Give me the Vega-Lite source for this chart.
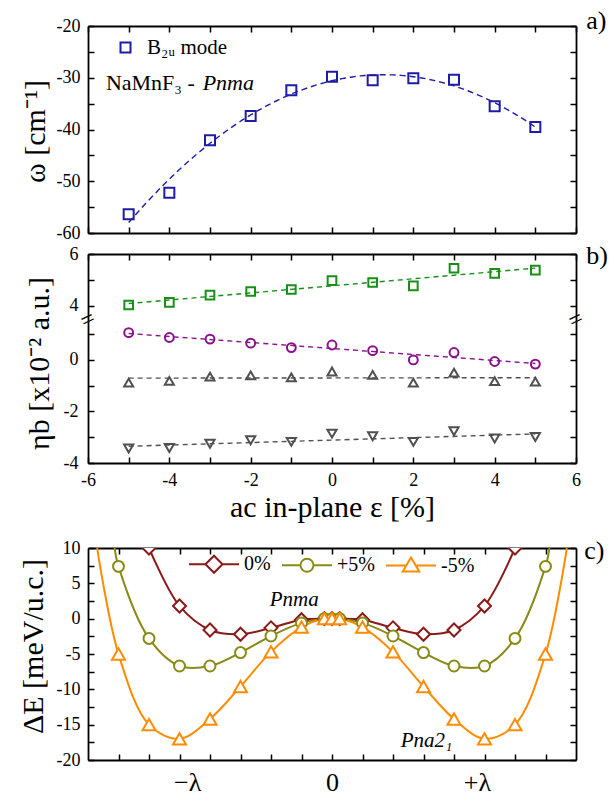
{
  "$schema": "https://vega.github.io/schema/vega-lite/v6.json",
  "padding": {"left": 17, "top": 8, "right": 0, "bottom": 2},
  "bounds": "flush",
  "spacing": 21,
  "resolve": {
    "scale": {"color": "independent", "shape": "independent", "size": "independent", "stroke": "independent"},
    "legend": {"color": "independent", "shape": "independent", "size": "independent", "stroke": "independent"}
  },
  "config": {
    "font": "Liberation Serif",
    "view": {"stroke": null},
    "axis": {
      "domainColor": "black", "domainWidth": 1.8, "tickColor": "black", "tickWidth": 1.5, "tickSize": -6,
      "labelFont": "Liberation Serif", "labelFontSize": 18, "labelColor": "black", "labelPadding": 14,
      "labelOverlap": false, "labelFlush": false, "labelBound": false,
      "titleFont": "Liberation Serif", "titleFontSize": 30, "titleFontWeight": "normal", "titleColor": "black",
      "grid": false
    },
    "legend": {"labelFont": "Liberation Serif", "labelColor": "black"},
    "text": {"font": "Liberation Serif", "color": "black"}
  },
  "datasets": {
    "omega": [
      {"eps": -5, "w": -56.4}, {"eps": -4, "w": -52.2}, {"eps": -3, "w": -42.1}, {"eps": -2, "w": -37.4},
      {"eps": -1, "w": -32.4}, {"eps": 0, "w": -29.8}, {"eps": 1, "w": -30.5}, {"eps": 2, "w": -30.1},
      {"eps": 3, "w": -30.4}, {"eps": 4, "w": -35.5}, {"eps": 5, "w": -39.5}
    ],
    "eta": [
      {"eps": -5, "eta": 4.03, "mode": "sq"}, {"eps": -4, "eta": 4.13, "mode": "sq"}, {"eps": -3, "eta": 4.41, "mode": "sq"},
      {"eps": -2, "eta": 4.55, "mode": "sq"}, {"eps": -1, "eta": 4.63, "mode": "sq"}, {"eps": 0, "eta": 4.97, "mode": "sq"},
      {"eps": 1, "eta": 4.9, "mode": "sq"}, {"eps": 2, "eta": 4.77, "mode": "sq"}, {"eps": 3, "eta": 5.45, "mode": "sq"},
      {"eps": 4, "eta": 5.25, "mode": "sq"}, {"eps": 5, "eta": 5.38, "mode": "sq"},
      {"eps": -5, "eta": 1.06, "mode": "circ"}, {"eps": -4, "eta": 0.87, "mode": "circ"}, {"eps": -3, "eta": 0.81, "mode": "circ"},
      {"eps": -2, "eta": 0.65, "mode": "circ"}, {"eps": -1, "eta": 0.48, "mode": "circ"}, {"eps": 0, "eta": 0.58, "mode": "circ"},
      {"eps": 1, "eta": 0.36, "mode": "circ"}, {"eps": 2, "eta": 0.0, "mode": "circ"}, {"eps": 3, "eta": 0.29, "mode": "circ"},
      {"eps": 4, "eta": -0.06, "mode": "circ"}, {"eps": 5, "eta": -0.16, "mode": "circ"},
      {"eps": -5, "eta": -0.88, "mode": "up"}, {"eps": -4, "eta": -0.81, "mode": "up"}, {"eps": -3, "eta": -0.65, "mode": "up"},
      {"eps": -2, "eta": -0.6, "mode": "up"}, {"eps": -1, "eta": -0.68, "mode": "up"}, {"eps": 0, "eta": -0.45, "mode": "up"},
      {"eps": 1, "eta": -0.58, "mode": "up"}, {"eps": 2, "eta": -0.88, "mode": "up"}, {"eps": 3, "eta": -0.49, "mode": "up"},
      {"eps": 4, "eta": -0.82, "mode": "up"}, {"eps": 5, "eta": -0.84, "mode": "up"},
      {"eps": -5, "eta": -3.44, "mode": "down"}, {"eps": -4, "eta": -3.42, "mode": "down"}, {"eps": -3, "eta": -3.25, "mode": "down"},
      {"eps": -2, "eta": -3.12, "mode": "down"}, {"eps": -1, "eta": -3.18, "mode": "down"}, {"eps": 0, "eta": -2.86, "mode": "down"},
      {"eps": 1, "eta": -2.96, "mode": "down"}, {"eps": 2, "eta": -3.18, "mode": "down"}, {"eps": 3, "eta": -2.77, "mode": "down"},
      {"eps": 4, "eta": -3.05, "mode": "down"}, {"eps": 5, "eta": -2.99, "mode": "down"}
    ],
    "dE": [
      {"lam": -6, "dE": 10, "strain": "0%", "pt": true}, {"lam": -5, "dE": 1.8, "strain": "0%", "pt": true},
      {"lam": -4, "dE": -1.6, "strain": "0%", "pt": true}, {"lam": -3, "dE": -2.2, "strain": "0%", "pt": true},
      {"lam": -2, "dE": -1.3, "strain": "0%", "pt": true}, {"lam": -1, "dE": -0.15, "strain": "0%", "pt": true},
      {"lam": -0.25, "dE": 0, "strain": "0%", "pt": true}, {"lam": 0, "dE": 0, "strain": "0%", "pt": true},
      {"lam": 0.25, "dE": 0, "strain": "0%", "pt": true}, {"lam": 1, "dE": -0.15, "strain": "0%", "pt": true},
      {"lam": 2, "dE": -1.3, "strain": "0%", "pt": true}, {"lam": 3, "dE": -2.2, "strain": "0%", "pt": true},
      {"lam": 4, "dE": -1.6, "strain": "0%", "pt": true}, {"lam": 5, "dE": 1.8, "strain": "0%", "pt": true},
      {"lam": 6, "dE": 10, "strain": "0%", "pt": true},
      {"lam": -7.13, "dE": 10, "strain": "+5%", "pt": false}, {"lam": -7, "dE": 7.4, "strain": "+5%", "pt": true},
      {"lam": -6, "dE": -2.8, "strain": "+5%", "pt": true}, {"lam": -5, "dE": -6.7, "strain": "+5%", "pt": true},
      {"lam": -4, "dE": -6.7, "strain": "+5%", "pt": true}, {"lam": -3, "dE": -4.8, "strain": "+5%", "pt": true},
      {"lam": -2, "dE": -2.45, "strain": "+5%", "pt": true}, {"lam": -1, "dE": -0.6, "strain": "+5%", "pt": true},
      {"lam": -0.25, "dE": 0, "strain": "+5%", "pt": true}, {"lam": 0, "dE": 0, "strain": "+5%", "pt": true},
      {"lam": 0.25, "dE": 0, "strain": "+5%", "pt": true}, {"lam": 1, "dE": -0.6, "strain": "+5%", "pt": true},
      {"lam": 2, "dE": -2.45, "strain": "+5%", "pt": true}, {"lam": 3, "dE": -4.8, "strain": "+5%", "pt": true},
      {"lam": 4, "dE": -6.7, "strain": "+5%", "pt": true}, {"lam": 5, "dE": -6.7, "strain": "+5%", "pt": true},
      {"lam": 6, "dE": -2.8, "strain": "+5%", "pt": true}, {"lam": 7, "dE": 7.4, "strain": "+5%", "pt": true},
      {"lam": 7.13, "dE": 10, "strain": "+5%", "pt": false},
      {"lam": -7.7, "dE": 10, "strain": "-5%", "pt": false}, {"lam": -7, "dE": -5, "strain": "-5%", "pt": true},
      {"lam": -6, "dE": -15, "strain": "-5%", "pt": true}, {"lam": -5, "dE": -17, "strain": "-5%", "pt": true},
      {"lam": -4, "dE": -14.2, "strain": "-5%", "pt": true}, {"lam": -3, "dE": -9.6, "strain": "-5%", "pt": true},
      {"lam": -2, "dE": -4.7, "strain": "-5%", "pt": true}, {"lam": -1, "dE": -1.2, "strain": "-5%", "pt": true},
      {"lam": -0.25, "dE": 0, "strain": "-5%", "pt": true}, {"lam": 0, "dE": 0, "strain": "-5%", "pt": true},
      {"lam": 0.25, "dE": 0, "strain": "-5%", "pt": true}, {"lam": 1, "dE": -1.2, "strain": "-5%", "pt": true},
      {"lam": 2, "dE": -4.7, "strain": "-5%", "pt": true}, {"lam": 3, "dE": -9.6, "strain": "-5%", "pt": true},
      {"lam": 4, "dE": -14.2, "strain": "-5%", "pt": true}, {"lam": 5, "dE": -17, "strain": "-5%", "pt": true},
      {"lam": 6, "dE": -15, "strain": "-5%", "pt": true}, {"lam": 7, "dE": -5, "strain": "-5%", "pt": true},
      {"lam": 7.7, "dE": 10, "strain": "-5%", "pt": false}
    ]
  },
  "vconcat": [
    {
      "width": 488, "height": 207,
      "resolve": {"axis": {"x": "independent", "y": "independent"}},
      "layer": [
        {
          "mark": {"type": "rule", "color": "black", "strokeDash": [1.5, 2.5], "strokeWidth": 1},
          "encoding": {"x": {"datum": 0, "type": "quantitative", "scale": {"domain": [-6, 6], "nice": false, "zero": false}, "axis": null}}
        },
        {
          "data": {"name": "omega"},
          "transform": [{"regression": "w", "on": "eps", "method": "poly", "order": 2}],
          "mark": {"type": "line", "color": "#1c1ca6", "strokeDash": [6, 4], "strokeWidth": 1.4},
          "encoding": {
            "x": {"field": "eps", "type": "quantitative", "scale": {"domain": [-6, 6], "nice": false, "zero": false},
                  "axis": {"orient": "top", "values": [-6, -5, -4, -3, -2, -1, 0, 1, 2, 3, 4, 5, 6], "labels": false, "title": null}},
            "y": {"field": "w", "type": "quantitative", "scale": {"domain": [-60, -20], "nice": false, "zero": false},
                  "axis": {"orient": "right", "values": [-60, -55, -50, -45, -40, -35, -30, -25, -20], "labels": false, "title": null}}
          }
        },
        {
          "data": {"name": "omega"},
          "mark": {"type": "point", "filled": false, "color": "#1c1ca6", "size": 100, "strokeWidth": 2, "opacity": 1},
          "encoding": {
            "x": {"field": "eps", "type": "quantitative", "scale": {"domain": [-6, 6], "nice": false, "zero": false},
                  "axis": {"orient": "bottom", "values": [-6, -5, -4, -3, -2, -1, 0, 1, 2, 3, 4, 5, 6], "labels": false, "title": null}},
            "y": {"field": "w", "type": "quantitative", "scale": {"domain": [-60, -20], "nice": false, "zero": false},
                  "axis": {"orient": "left", "values": [-60, -55, -50, -45, -40, -35, -30, -25, -20],
                           "labelExpr": "datum.value % 10 == 0 ? '' + datum.value : ''",
                           "title": "ω [cm⁻¹]", "titleX": -53, "titleY": 105, "titleAngle": -90, "titleBaseline": "middle", "titleAlign": "center"}},
            "shape": {"datum": "B₂ᵤ mode", "type": "nominal", "scale": {"domain": ["B₂ᵤ mode"], "range": ["square"]},
                      "legend": {"orient": "none", "legendX": 27, "legendY": 11, "title": null, "padding": 0,
                                 "symbolSize": 100, "symbolStrokeWidth": 2, "symbolStrokeColor": "#1c1ca6", "symbolFillColor": "transparent",
                                 "labelFontSize": 21, "labelOffset": 11}}
          }
        },
        {
          "data": {"values": [{}]},
          "mark": {"type": "text", "align": "left", "baseline": "middle", "fontSize": 22},
          "encoding": {"x": {"datum": -5.56, "type": "quantitative", "axis": null}, "y": {"datum": -31, "type": "quantitative", "axis": null}, "text": {"value": "NaMnF₃ -"}}
        },
        {
          "data": {"values": [{}]},
          "mark": {"type": "text", "align": "left", "baseline": "middle", "fontSize": 22, "fontStyle": "italic"},
          "encoding": {"x": {"datum": -3.18, "type": "quantitative", "axis": null}, "y": {"datum": -31, "type": "quantitative", "axis": null}, "text": {"value": "Pnma"}}
        },
        {
          "data": {"values": [{}]},
          "mark": {"type": "text", "align": "center", "baseline": "middle", "fontSize": 26},
          "encoding": {"x": {"datum": 6.5, "type": "quantitative", "axis": null}, "y": {"datum": -19.05, "type": "quantitative", "axis": null}, "text": {"value": "a)"}}
        }
      ]
    },
    {
      "width": 488, "height": 273,
      "resolve": {"axis": {"x": "independent", "y": "independent"}},
      "layer": [
        {
          "mark": {"type": "rule", "color": "#777777", "strokeDash": [1.5, 2.5], "strokeWidth": 1},
          "encoding": {
            "x": {"datum": 0, "type": "quantitative", "scale": {"domain": [-6, 6], "nice": false, "zero": false}, "axis": null},
            "y": {"datum": 6, "type": "quantitative", "scale": {"domain": [-4, 1.55, 3.45, 6], "range": [209, 66, 66, 0], "nice": false, "zero": false}, "axis": null},
            "y2": {"datum": -4}
          }
        },
        {
          "mark": {"type": "rule", "color": "black", "strokeDash": [3, 3], "strokeWidth": 1},
          "encoding": {
            "x": {"datum": -6, "type": "quantitative", "axis": null},
            "x2": {"datum": 6},
            "y": {"datum": 0, "type": "quantitative", "axis": null}
          }
        },
        {
          "data": {"name": "eta"},
          "transform": [{"regression": "eta", "on": "eps", "groupby": ["mode"]}],
          "mark": {"type": "line", "strokeDash": [5, 4], "strokeWidth": 1.4},
          "encoding": {
            "x": {"field": "eps", "type": "quantitative", "scale": {"domain": [-6, 6], "nice": false, "zero": false},
                  "axis": {"orient": "top", "values": [-6, -5, -4, -3, -2, -1, 0, 1, 2, 3, 4, 5, 6], "labels": false, "title": null}},
            "y": {"field": "eta", "type": "quantitative", "scale": {"domain": [-4, 1.55, 3.45, 6], "range": [209, 66, 66, 0], "nice": false, "zero": false},
                  "axis": {"orient": "right", "values": [-4, -3, -2, -1, 0, 1, 4, 5, 6], "labels": false, "title": null}},
            "color": {"field": "mode", "type": "nominal", "scale": {"domain": ["sq", "circ", "up", "down"], "range": ["#179017", "#8a118a", "#505050", "#505050"]}, "legend": null}
          }
        },
        {
          "data": {"name": "eta"},
          "mark": {"type": "point", "filled": false, "strokeWidth": 2, "opacity": 1},
          "encoding": {
            "x": {"field": "eps", "type": "quantitative", "scale": {"domain": [-6, 6], "nice": false, "zero": false},
                  "axis": {"orient": "bottom", "offset": -64, "values": [-6, -5, -4, -3, -2, -1, 0, 1, 2, 3, 4, 5, 6],
                           "labelExpr": "datum.value % 2 == 0 ? '' + datum.value : ''",
                           "title": "ac in-plane ε [%]", "titleY": 44, "titleBaseline": "middle"}},
            "y": {"field": "eta", "type": "quantitative", "scale": {"domain": [-4, 1.55, 3.45, 6], "range": [209, 66, 66, 0], "nice": false, "zero": false},
                  "axis": {"orient": "left", "values": [-4, -3, -2, -1, 0, 1, 4, 5, 6],
                           "labelExpr": "indexof([-4, -2, 0, 4, 6], datum.value) >= 0 ? '' + datum.value : ''",
                           "labelPadding": 16,
                           "title": "ηb [x10⁻² a.u.]", "titleX": -49, "titleY": 109, "titleAngle": -90, "titleBaseline": "middle", "titleAlign": "center"}},
            "color": {"field": "mode", "type": "nominal", "scale": {"domain": ["sq", "circ", "up", "down"], "range": ["#179017", "#8a118a", "#505050", "#505050"]}, "legend": null},
            "shape": {"field": "mode", "type": "nominal", "scale": {"domain": ["sq", "circ", "up", "down"], "range": ["square", "circle", "triangle-up", "triangle-down"]}, "legend": null},
            "size": {"field": "mode", "type": "nominal", "scale": {"domain": ["sq", "circ", "up", "down"], "range": [75, 85, 140, 140]}, "legend": null}
          }
        },
        {
          "data": {"values": [{}]},
          "mark": {"type": "text", "align": "center", "baseline": "middle", "fontSize": 24, "angle": -25},
          "encoding": {"x": {"datum": -6, "type": "quantitative", "axis": null}, "y": {"datum": 2.5, "type": "quantitative", "axis": null}, "text": {"value": "="}}
        },
        {
          "data": {"values": [{}]},
          "mark": {"type": "text", "align": "center", "baseline": "middle", "fontSize": 24, "angle": -25},
          "encoding": {"x": {"datum": 6, "type": "quantitative", "axis": null}, "y": {"datum": 2.5, "type": "quantitative", "axis": null}, "text": {"value": "="}}
        },
        {
          "data": {"values": [{}]},
          "mark": {"type": "text", "align": "center", "baseline": "middle", "fontSize": 26},
          "encoding": {"x": {"datum": 6.52, "type": "quantitative", "axis": null}, "y": {"datum": 5.92, "type": "quantitative", "axis": null}, "text": {"value": "b)"}}
        }
      ]
    },
    {
      "width": 488, "height": 212,
      "resolve": {"axis": {"x": "independent", "y": "independent"}},
      "layer": [
        {
          "mark": {"type": "rule", "color": "#777777", "strokeDash": [1.5, 2.5], "strokeWidth": 1},
          "encoding": {"x": {"datum": 0, "type": "quantitative", "scale": {"domain": [-8, 8], "nice": false, "zero": false}, "axis": null}}
        },
        {
          "mark": {"type": "rule", "color": "#555555", "strokeDash": [4, 3], "strokeWidth": 1},
          "encoding": {"y": {"datum": 0, "type": "quantitative", "scale": {"domain": [-20, 10], "nice": false, "zero": false}, "axis": null}}
        },
        {
          "data": {"name": "dE"},
          "mark": {"type": "line", "interpolate": "catmull-rom", "strokeWidth": 2, "clip": true},
          "encoding": {
            "x": {"field": "lam", "type": "quantitative", "scale": {"domain": [-8, 8], "nice": false, "zero": false},
                  "axis": {"orient": "top", "values": [-7, -6, -5, -4, -3, -2, -1, 0, 1, 2, 3, 4, 5, 6, 7], "labels": false, "title": null}},
            "y": {"field": "dE", "type": "quantitative", "scale": {"domain": [-20, 10], "nice": false, "zero": false},
                  "axis": {"orient": "right", "values": [-20, -17.5, -15, -12.5, -10, -7.5, -5, -2.5, 0, 2.5, 5, 7.5, 10], "labels": false, "title": null}},
            "color": {"field": "strain", "type": "nominal", "scale": {"domain": ["0%", "+5%", "-5%"], "range": ["#8b1a1a", "#8a8a16", "#ff8c00"]},
                      "legend": {"orient": "none", "legendX": 100, "legendY": -10, "direction": "horizontal", "title": null, "padding": 0,
                                 "symbolSize": 2500, "symbolStrokeWidth": 2, "labelFontSize": 20, "labelOffset": 4, "columnPadding": 7,
                                 "encode": {"symbols": {"update": {
                                   "shape": {"signal": "datum.value === '0%' ? 'M-1,0L-0.34,0M0.34,0L1,0M-0.34,0L0,-0.34L0.34,0L0,0.34Z' : datum.value === '+5%' ? 'M-1,0L-0.26,0M0.26,0L1,0M-0.26,0A0.26,0.26,0,1,1,0.26,0A0.26,0.26,0,1,1,-0.26,0Z' : 'M-1,0L-0.19,0M0.19,0L1,0M0,-0.32L0.33,0.24L-0.33,0.24Z'"},
                                   "size": {"value": 2500},
                                   "fill": {"value": "white"}, "fillOpacity": {"value": 1}, "strokeWidth": {"value": 2}
                                 }}}}}
          }
        },
        {
          "data": {"name": "dE"},
          "transform": [{"filter": "datum.pt && datum.strain === '0%'"}],
          "mark": {"type": "point", "shape": "diamond", "fill": "white", "fillOpacity": 1, "stroke": "#8b1a1a", "strokeWidth": 2, "opacity": 1, "clip": true, "size": 170},
          "encoding": {
            "x": {"field": "lam", "type": "quantitative", "scale": {"domain": [-8, 8], "nice": false, "zero": false},
                  "axis": {"orient": "bottom", "values": [-7, -6, -5, -4.75, -4, -3, -2, -1, 0, 1, 2, 3, 4, 4.75, 5, 6, 7],
                           "labelExpr": "datum.value == 0 ? '0' : datum.value == -4.75 ? '−λ' : datum.value == 4.75 ? '+λ' : ''",
                           "tickOpacity": {"condition": {"test": "abs(datum.value) == 4.75", "value": 0}, "value": 1},
                           "labelFontSize": 26, "labelPadding": 28, "labelBaseline": "middle", "title": null}},
            "y": {"field": "dE", "type": "quantitative", "scale": {"domain": [-20, 10], "nice": false, "zero": false},
                  "axis": {"orient": "left", "values": [-20, -17.5, -15, -12.5, -10, -7.5, -5, -2.5, 0, 2.5, 5, 7.5, 10],
                           "labelExpr": "datum.value % 5 == 0 ? '' + datum.value : ''",
                           "title": "ΔE [meV/u.c.]", "titleX": -55, "titleY": 98, "titleAngle": -90, "titleBaseline": "middle", "titleAlign": "center"}}
          }
        },
        {
          "data": {"name": "dE"},
          "transform": [{"filter": "datum.pt && datum.strain === '+5%'"}],
          "mark": {"type": "point", "shape": "circle", "fill": "white", "fillOpacity": 1, "stroke": "#8a8a16", "strokeWidth": 2, "opacity": 1, "clip": true, "size": 120},
          "encoding": {
            "x": {"field": "lam", "type": "quantitative", "axis": null},
            "y": {"field": "dE", "type": "quantitative", "axis": null}
          }
        },
        {
          "data": {"name": "dE"},
          "transform": [{"filter": "datum.pt && datum.strain === '-5%'"}],
          "mark": {"type": "point", "shape": "triangle-up", "fill": "white", "fillOpacity": 1, "stroke": "#ff8c00", "strokeWidth": 2, "opacity": 1, "clip": true, "size": 170},
          "encoding": {
            "x": {"field": "lam", "type": "quantitative", "axis": null},
            "y": {"field": "dE", "type": "quantitative", "axis": null}
          }
        },
        {
          "data": {"values": [{}]},
          "mark": {"type": "text", "align": "center", "baseline": "middle", "fontSize": 21, "fontStyle": "italic"},
          "encoding": {"x": {"datum": -1.24, "type": "quantitative", "axis": null}, "y": {"datum": 2.65, "type": "quantitative", "axis": null}, "text": {"value": "Pnma"}}
        },
        {
          "data": {"values": [{}]},
          "mark": {"type": "text", "align": "center", "baseline": "middle", "fontSize": 21, "fontStyle": "italic"},
          "encoding": {"x": {"datum": 3.1, "type": "quantitative", "axis": null}, "y": {"datum": -17.3, "type": "quantitative", "axis": null}, "text": {"value": "Pna2₁"}}
        },
        {
          "data": {"values": [{}]},
          "mark": {"type": "text", "align": "center", "baseline": "middle", "fontSize": 26},
          "encoding": {"x": {"datum": 8.6, "type": "quantitative", "axis": null}, "y": {"datum": 9.6, "type": "quantitative", "axis": null}, "text": {"value": "c)"}}
        }
      ]
    }
  ]
}
